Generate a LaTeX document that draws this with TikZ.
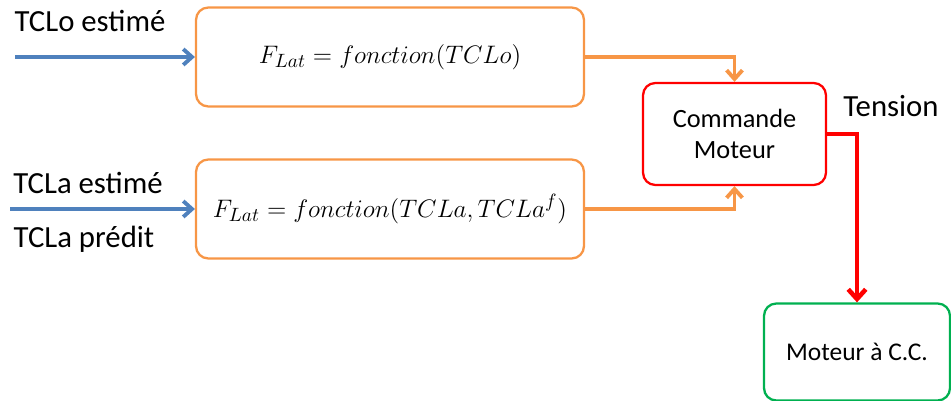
\documentclass[tikz,border=0pt]{standalone}
\usepackage{amsmath}
\usepackage{fontspec}
\setmainfont{Carlito}
\usepackage{tikz}
\usetikzlibrary{arrows.meta, positioning}
\usepackage{xcolor}
\definecolor{bluein}{RGB}{79,129,189}
\definecolor{orangebox}{RGB}{247,150,70}
\definecolor{redbox}{RGB}{255,0,0}
\definecolor{greenbox}{RGB}{0,176,80}

\begin{document}
\begin{tikzpicture}[
x=0.02cm, y=-0.02cm,
box/.style={rectangle, draw=orangebox, line width=1.3pt, rounded corners=7pt,
minimum width=7.76cm, minimum height=1.98cm, align=center, font=\fontsize{15.5}{18}\selectfont},
smallbox/.style={rectangle, line width=1.3pt, rounded corners=7pt,
minimum width=3.66cm, minimum height=2.04cm, align=center, font=\fontsize{15}{18}\selectfont},
label/.style={font=\fontsize{17.5}{20}\selectfont, inner sep=0pt},
inarrow/.style={-{Straight Barb[length=5pt, width=9pt]}, line width=2.2pt, draw=bluein},
midarrow/.style={-{Straight Barb[length=5pt, width=9pt]}, line width=2.2pt, draw=orangebox},
outarrow/.style={-{Straight Barb[length=5.5pt, width=10pt]}, line width=2.6pt, draw=redbox}
]
\useasboundingbox (0,0) rectangle (951,401);

\node[box] (lato) at (390,57) {$F_{Lat} = fonction(TCLo)$};
\node[box] (lata) at (390,209) {$F_{Lat} = fonction(TCLa,TCLa^{f})$};
\node[smallbox, draw=redbox] (commande) at (734.5,134) {Commande\\Moteur};
\node[smallbox, draw=greenbox, minimum width=3.72cm, minimum height=1.94cm, font=\fontsize{14.5}{17}\selectfont] (moteur) at (857,352) {Moteur à C.C.};

% entrees
\coordinate (tclo) at (15,57);
\coordinate (tcla) at (10,209);
\node[label, anchor=base] at (90,32) {TCLo estimé};
\node[label, anchor=base] at (88,194) {TCLa estimé};
\node[label, anchor=base] at (84,248) {TCLa prédit};
\draw[inarrow] (tclo) -- (lato);
\draw[inarrow] (tcla) -- (lata);

% vers la commande
\draw[midarrow] (lato.east) -| (commande.north);
\draw[midarrow] (lata.east) -| (commande.south);

% tension
\node[label, anchor=base] at (891,117) {Tension};
\draw[outarrow] (commande.east) -| (moteur.north);

\end{tikzpicture}
\end{document}
